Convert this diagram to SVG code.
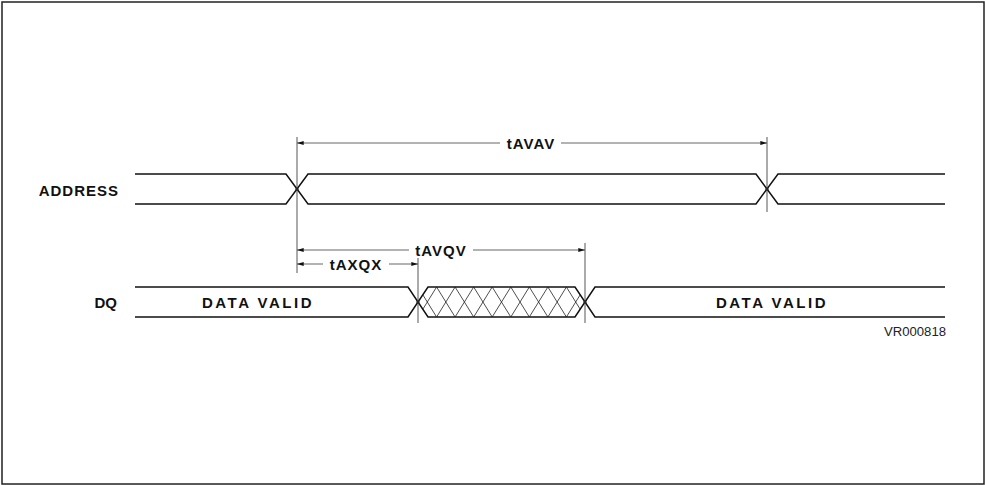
<svg xmlns="http://www.w3.org/2000/svg" width="985" height="485" viewBox="0 0 985 485">
<style>
.sig{fill:none;stroke:#111;stroke-width:1.5;stroke-linejoin:miter}
.ref{fill:none;stroke:#444;stroke-width:0.9}
.dim{fill:none;stroke:#555;stroke-width:0.9}
.hatch{fill:none;stroke:#222;stroke-width:0.8}
.lbl{font-family:"Liberation Sans",Arial,sans-serif;font-weight:bold;font-size:15px;fill:#111}
.tm{font-family:"Liberation Sans",Arial,sans-serif;font-weight:bold;font-size:15px;fill:#111;letter-spacing:1px;text-anchor:middle}
.id{font-family:"Liberation Sans",Arial,sans-serif;font-size:12px;fill:#222;text-anchor:end}
</style>
<defs>
<marker id="arr" viewBox="0 0 10 6" refX="10" refY="3" markerWidth="8" markerHeight="4" markerUnits="userSpaceOnUse" orient="auto-start-reverse">
<path d="M0,0 L10,3 L0,6 z" fill="#111"/>
</marker>
<clipPath id="hclip">
<polygon points="418,302 428,287 575,287 585,302 575,317 428,317"/>
</clipPath>
</defs>
<rect x="2" y="2" width="982" height="482" fill="#fff" stroke="#222" stroke-width="1.5"/>

<g id="address">
<text class="lbl" x="119" y="196" text-anchor="end" letter-spacing="1">ADDRESS</text>
<path class="sig" d="M135,174 H286 L308,204 H756 L778,174 H945"/>
<path class="sig" d="M135,204 H286 L308,174 H756 L778,204 H945"/>
<circle cx="297" cy="189" r="1.6" fill="#111"/>
<circle cx="767" cy="189" r="1.6" fill="#111"/>
</g>

<g id="dq">
<text class="lbl" x="117" y="308" text-anchor="end">DQ</text>
<path class="sig" d="M135,287 H408 L428,317 H575 L595,287 H945"/>
<path class="sig" d="M135,317 H408 L428,287 H575 L595,317 H945"/>
<g clip-path="url(#hclip)">
<path class="hatch" d="M399.4,287 L418,317 M418,287 L436.6,317 M436.6,287 L455.1,317 M455.1,287 L473.7,317 M473.7,287 L492.2,317 M492.2,287 L510.8,317 M510.8,287 L529.3,317 M529.3,287 L547.9,317 M547.9,287 L566.4,317 M566.4,287 L585,317 M585,287 L603.6,317"/>
<path class="hatch" d="M399.4,317 L418,287 M418,317 L436.6,287 M436.6,317 L455.1,287 M455.1,317 L473.7,287 M473.7,317 L492.2,287 M492.2,317 L510.8,287 M510.8,317 L529.3,287 M529.3,317 L547.9,287 M547.9,317 L566.4,287 M566.4,317 L585,287 M585,317 L603.6,287"/>
</g>
<circle cx="418" cy="302" r="1.6" fill="#111"/>
<circle cx="585" cy="302" r="1.6" fill="#111"/>
<text class="lbl" x="258" y="308" text-anchor="middle" letter-spacing="2.5">DATA VALID</text>
<text class="lbl" x="772" y="308" text-anchor="middle" letter-spacing="2.5">DATA VALID</text>
</g>

<g id="connectors">
<line class="ref" x1="297" y1="137" x2="297" y2="273"/>
<line class="ref" x1="767" y1="137" x2="767" y2="212"/>
<line class="ref" x1="418" y1="258" x2="418" y2="323"/>
<line class="ref" x1="585" y1="243" x2="585" y2="323"/>
<line class="dim" x1="297" y1="143" x2="500" y2="143" marker-start="url(#arr)"/>
<line class="dim" x1="561" y1="143" x2="767" y2="143" marker-end="url(#arr)"/>
<line class="dim" x1="297" y1="250" x2="409" y2="250" marker-start="url(#arr)"/>
<line class="dim" x1="473" y1="250" x2="585" y2="250" marker-end="url(#arr)"/>
<line class="dim" x1="297" y1="264" x2="323" y2="264" marker-start="url(#arr)"/>
<line class="dim" x1="389" y1="264" x2="418" y2="264" marker-end="url(#arr)"/>
<text class="tm" x="531" y="148.5">tAVAV</text>
<text class="tm" x="441" y="255.5">tAVQV</text>
<text class="tm" x="356" y="269.5">tAXQX</text>
</g>

<text class="id" x="946" y="336" textLength="62" lengthAdjust="spacingAndGlyphs">VR000818</text>
</svg>
